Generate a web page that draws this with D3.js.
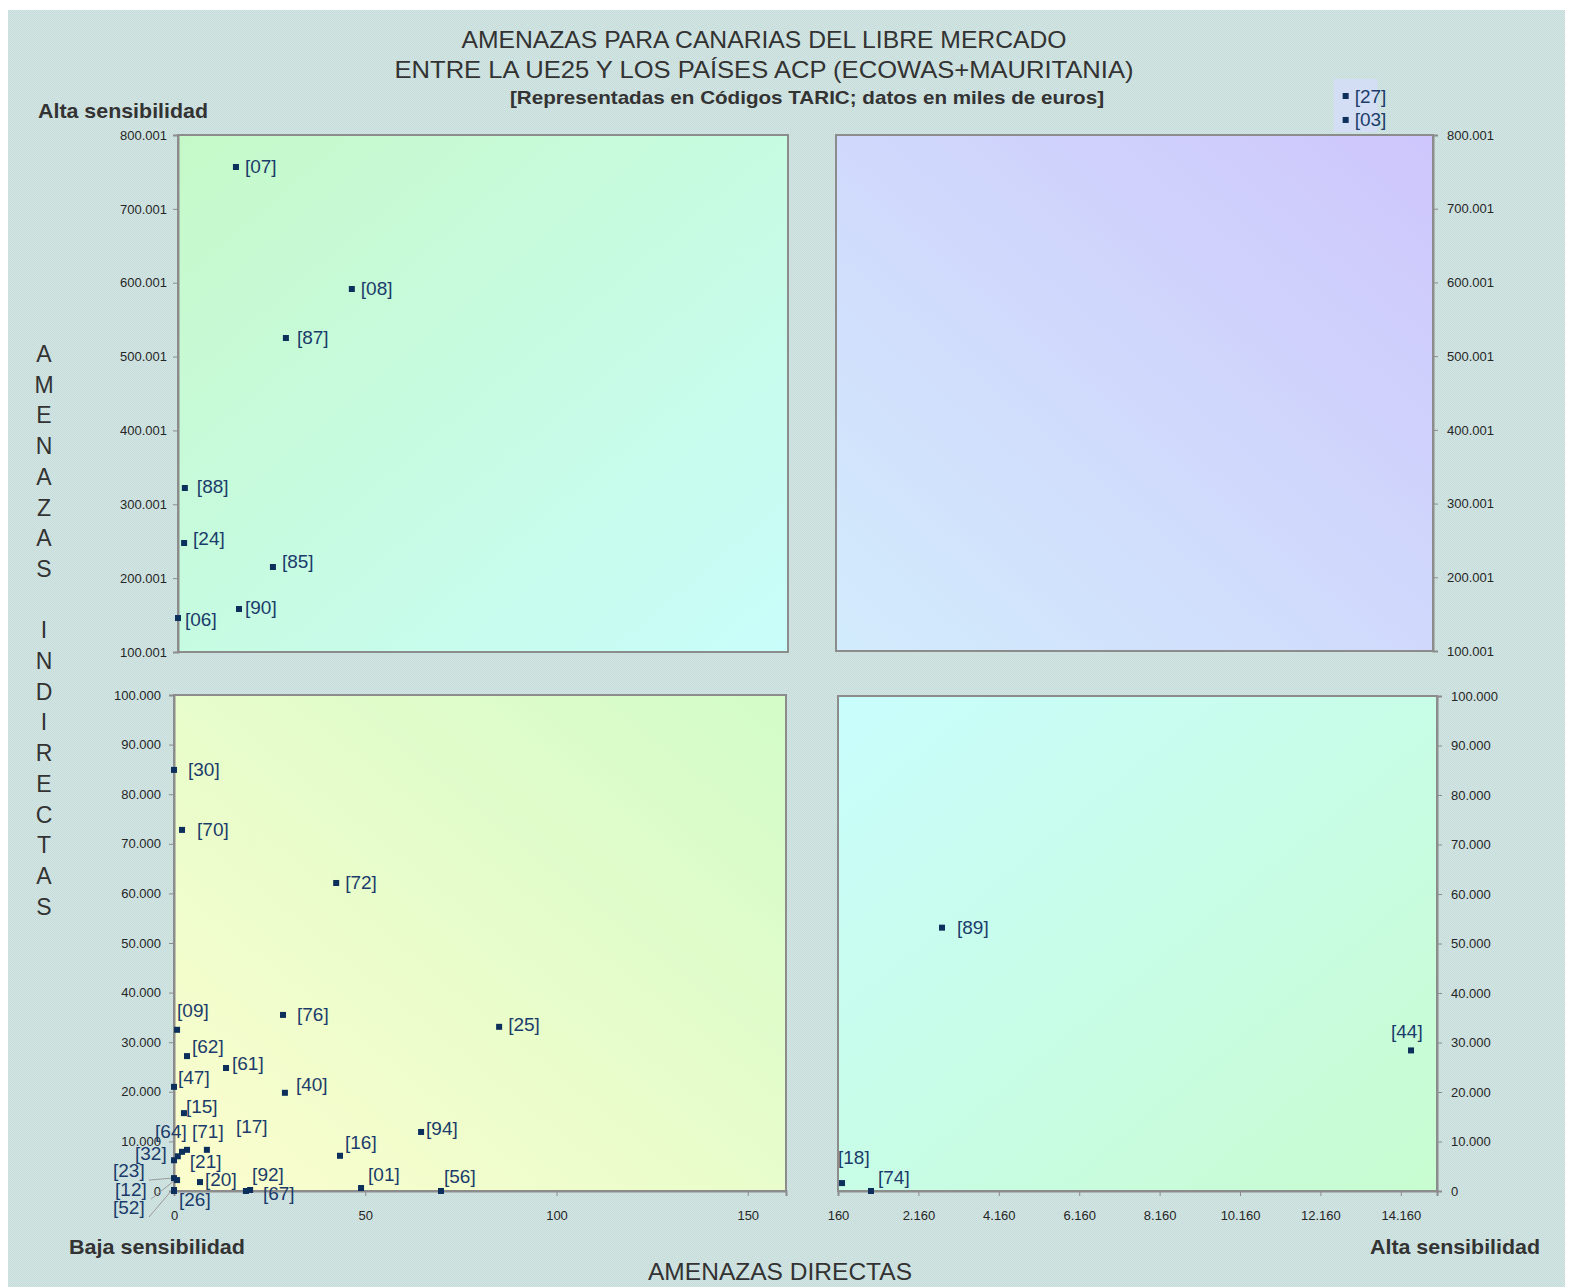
<!DOCTYPE html>
<html>
<head>
<meta charset="utf-8">
<script src="https://cdn.jsdelivr.net/npm/d3@7"></script>
<style>
  body { margin: 0; background: #fff; }
  svg text { font-family: "Liberation Sans", Arial, sans-serif; }
</style>
</head>
<body>
<script>
// data (miles de euros): x = amenazas directas, y = amenazas indirectas
let tlCodes = ["07", "08", "87", "88", "24", "85", "90", "06"],
    tlX = [15.2, 45.6, 28.3, 1.8, 1.6, 24.9, 16.0, 0.0],
    tlY = [756700, 591500, 525150, 322050, 247600, 215100, 158200, 146000];

let trCodes = ["27", "03"],
    trX = [12880, 12880],
    trY = [852900, 820400];

let blCodes = ["30", "70", "72", "09", "76", "25", "62", "61", "47", "40", "15", "94",
               "64", "71", "17", "32", "21", "16", "23", "12", "52", "26", "20", "92", "67", "01", "56"],
    blX = [0.0, 2.1, 42.4, 0.8, 28.5, 85.0, 3.4, 13.6, 0.0, 29.0, 2.6, 64.6,
           2.1, 3.4, 8.6, 0.0, 1.0, 43.4, 0.0, 0.8, 0.0, 0.0, 6.8, 19.9, 18.8, 48.9, 69.8],
    blY = [84900, 72800, 62100, 32500, 35500, 33100, 27200, 24800, 21000, 19800, 15700, 11900,
           7900, 8300, 8300, 6200, 7000, 7100, 2600, 2200, 200, 0, 1800, 200, 0, 600, 0];

let brCodes = ["89", "44", "18", "74"],
    brX = [2747, 14414, 260, 981],
    brY = [53200, 28400, 1600, 0];

let yTopTicks = [100001, 200001, 300001, 400001, 500001, 600001, 700001, 800001],
    yBotTicks = [0, 10000, 20000, 30000, 40000, 50000, 60000, 70000, 80000, 90000, 100000],
    xLowTicks = [0, 50, 100, 150],
    xHighTicks = [160, 2160, 4160, 6160, 8160, 10160, 12160, 14160];

// label offsets (left edge / vertical centre relative to marker), default [9, 0]
let labelOff = {
  "06": [7, 1], "85": [9, -5], "90": [6, -2], "88": [12, -2], "24": [9, -4], "87": [11, 0],
  "09": [0, -19], "76": [14, 0], "25": [9, -2], "62": [5, -10], "61": [6, -4], "47": [4, -9],
  "40": [11, -8], "15": [2, -7], "94": [5, -3], "64": [-27, -20], "71": [5, -18], "17": [29, -23],
  "32": [-39, -7], "21": [12, 5], "16": [5, -13], "23": [-61, -8], "12": [-62, 9], "52": [-61, 17],
  "26": [5, 8], "20": [5, -3], "92": [2, -16], "67": [17, 2], "01": [7, -14], "56": [3, -15],
  "30": [14, 0], "70": [15, 0], "72": [9, 0],
  "89": [15, 0], "44": [-20, -19], "18": [-4, -26], "74": [7, -14]
};
let leaders = ["23", "12", "52"];

let width = 1572, height = 1287;
let es = d3.formatLocale({decimal: ",", thousands: ".", grouping: [3], currency: ["", " €"]});
let fmt = es.format(",d");

let svg = d3.select("body").append("svg").attr("width", width).attr("height", height);
let defs = svg.append("defs");

// dithered grey-blue background
let pat = defs.append("pattern").attr("id", "dither").attr("width", 2).attr("height", 2)
    .attr("patternUnits", "userSpaceOnUse");
pat.append("rect").attr("width", 2).attr("height", 2).attr("fill", "#d3e6e2");
pat.append("rect").attr("width", 1).attr("height", 1).attr("fill", "#c6dbdc");
pat.append("rect").attr("x", 1).attr("y", 1).attr("width", 1).attr("height", 1).attr("fill", "#c6dbdc");

svg.append("rect").attr("x", 8).attr("y", 10).attr("width", 1557).attr("height", 1277)
    .attr("fill", "url(#dither)");

function grad(id, c1, c2, x1, y1, x2, y2) {
  let g = defs.append("linearGradient").attr("id", id)
      .attr("x1", x1).attr("y1", y1).attr("x2", x2).attr("y2", y2);
  g.append("stop").attr("offset", "0%").attr("stop-color", c1);
  g.append("stop").attr("offset", "100%").attr("stop-color", c2);
}
grad("gTL", "#c6f9c8", "#c8fdfb", 0, 0, 1, 1);
grad("gTR", "#d2ecfc", "#cec6fc", 0, 1, 1, 0);
grad("gBL", "#fcfdcd", "#d2fcc8", 0, 1, 1, 0);
grad("gBR", "#c8fdfd", "#c8fcd0", 0, 0, 1, 1);

let tlx = d3.scaleLinear().domain([0, 160]).range([178, 788]),
    tly = d3.scaleLinear().domain([100001, 800001]).range([652, 135]),
    trx = d3.scaleLinear().domain([160, 15060]).range([836, 1433]),
    try_ = d3.scaleLinear().domain([100001, 800001]).range([651, 135]),
    blx = d3.scaleLinear().domain([0, 160]).range([174, 786]),
    bly = d3.scaleLinear().domain([0, 100000]).range([1191, 695]),
    brx = d3.scaleLinear().domain([160, 15060]).range([838, 1437]),
    bry = d3.scaleLinear().domain([0, 100000]).range([1191, 696]);

function panel(x, y, fill) {
  let r = [x.range()[0], y.range()[1], x.range()[1] - x.range()[0], y.range()[0] - y.range()[1]];
  svg.append("rect").attr("x", r[0]).attr("y", r[1]).attr("width", r[2]).attr("height", r[3])
      .attr("fill", fill).attr("stroke", "#8c8c8c").attr("stroke-width", 2);
}
panel(tlx, tly, "url(#gTL)");
panel(trx, try_, "url(#gTR)");
panel(blx, bly, "url(#gBL)");
panel(brx, bry, "url(#gBR)");

function styleAxis(g, size) {
  g.select(".domain").attr("stroke", "#8c8c8c").attr("stroke-width", 2);
  g.selectAll(".tick line").attr("stroke", "#8c8c8c");
  g.selectAll(".tick text").attr("fill", "#262626").style("font-size", size + "px")
      .style("font-family", "'Liberation Sans', Arial, sans-serif");
}

let ax;
ax = svg.append("g").attr("transform", "translate(" + tlx.range()[0] + ",0)")
    .call(d3.axisLeft(tly).tickValues(yTopTicks).tickFormat(fmt).tickSize(5).tickPadding(6));
styleAxis(ax, 13);
ax = svg.append("g").attr("transform", "translate(" + trx.range()[1] + ",0)")
    .call(d3.axisRight(try_).tickValues(yTopTicks).tickFormat(fmt).tickSize(5).tickPadding(9));
styleAxis(ax, 13);
ax = svg.append("g").attr("transform", "translate(" + blx.range()[0] + ",0)")
    .call(d3.axisLeft(bly).tickValues(yBotTicks).tickFormat(fmt).tickSize(5).tickPadding(8));
styleAxis(ax, 13);
ax = svg.append("g").attr("transform", "translate(" + brx.range()[1] + ",0)")
    .call(d3.axisRight(bry).tickValues(yBotTicks).tickFormat(fmt).tickSize(5).tickPadding(9));
styleAxis(ax, 13);
ax = svg.append("g").attr("transform", "translate(0," + bly.range()[0] + ")")
    .call(d3.axisBottom(blx).tickValues(xLowTicks).tickFormat(fmt).tickSize(5).tickPadding(15));
styleAxis(ax, 13);
ax = svg.append("g").attr("transform", "translate(0," + bry.range()[0] + ")")
    .call(d3.axisBottom(brx).tickValues(xHighTicks).tickFormat(fmt).tickSize(5).tickPadding(15));
styleAxis(ax, 13);

// box behind the off-scale points [27] and [03]
svg.append("rect")
    .attr("x", trx(trX[0]) - 12).attr("y", try_(trY[0]) - 17)
    .attr("width", 44).attr("height", try_(trY[1]) - try_(trY[0]) + 29)
    .attr("fill", "#d3def5");

function series(codes, xs, ys, x, y) {
  let data = codes.map(function(c, i) { return {code: c, x: x(xs[i]), y: y(ys[i])}; });
  let g = svg.append("g");
  g.selectAll("line.lead").data(data.filter(function(d) { return leaders.indexOf(d.code) >= 0; }))
    .enter().append("line")
      .attr("x1", function(d) { return d.x + labelOff[d.code][0] + 36; })
      .attr("y1", function(d) { return d.y + labelOff[d.code][1] + 10; })
      .attr("x2", function(d) { return d.x - 2; })
      .attr("y2", function(d) { return d.y; })
      .attr("stroke", "#9a9a9a").attr("stroke-width", 1);
  g.selectAll("rect.pt").data(data).enter().append("rect")
      .attr("x", function(d) { return d.x - 3; })
      .attr("y", function(d) { return d.y - 3; })
      .attr("width", 6).attr("height", 6)
      .attr("fill", "#0d2f5c");
  g.selectAll("text.lbl").data(data).enter().append("text")
      .attr("x", function(d) { return d.x + (labelOff[d.code] || [9, 0])[0]; })
      .attr("y", function(d) { return d.y + (labelOff[d.code] || [9, 0])[1]; })
      .attr("dominant-baseline", "central")
      .attr("fill", "#1b3c6b")
      .style("font-size", "19px")
      .text(function(d) { return "[" + d.code + "]"; });
}
series(tlCodes, tlX, tlY, tlx, tly);
series(trCodes, trX, trY, trx, try_);
series(blCodes, blX, blY, blx, bly);
series(brCodes, brX, brY, brx, bry);

// titles
function label(x, y, txt, size, bold, anchor, len) {
  let t = svg.append("text").attr("x", x).attr("y", y).attr("text-anchor", anchor)
      .attr("fill", "#333").style("font-size", size + "px")
      .style("font-weight", bold ? "bold" : "normal").text(txt);
  if (len) t.attr("textLength", len).attr("lengthAdjust", "spacingAndGlyphs");
  return t;
}
label(764, 48, "AMENAZAS PARA CANARIAS DEL LIBRE MERCADO", 24, false, "middle", 605);
label(764, 78, "ENTRE LA UE25 Y LOS PAÍSES ACP (ECOWAS+MAURITANIA)", 24, false, "middle", 739);
label(807, 104, "[Representadas en Códigos TARIC; datos en miles de euros]", 19, true, "middle", 594);
label(38, 118, "Alta sensibilidad", 21, true, "start", 170);
label(69, 1254, "Baja sensibilidad", 21, true, "start", 176);
label(1540, 1254, "Alta sensibilidad", 21, true, "end", 170);
label(780, 1280, "AMENAZAS DIRECTAS", 23, false, "middle", 264);

let vert = "AMENAZAS INDIRECTAS".split("");
svg.append("g").selectAll("text").data(vert).enter().append("text")
    .attr("x", 44)
    .attr("y", function(d, i) { return 354 + i * 30.7; })
    .attr("text-anchor", "middle").attr("dominant-baseline", "central")
    .attr("fill", "#333").style("font-size", "23px")
    .text(function(d) { return d; });
</script>
</body>
</html>
